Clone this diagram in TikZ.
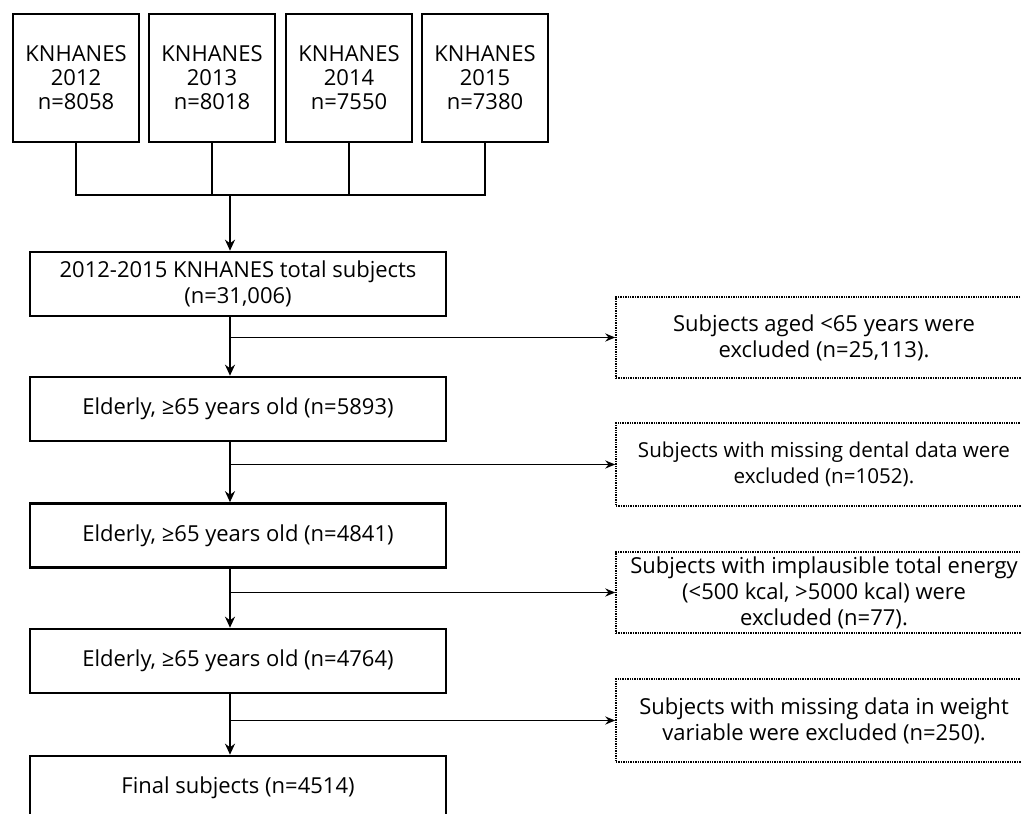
\documentclass[tikz,border=0pt]{standalone}
\usepackage{fontspec}
\setmainfont{Open Sans}
\usetikzlibrary{arrows.meta}

\begin{document}
\begin{tikzpicture}[x=1pt,y=-1pt,font=\fontsize{22}{26}\selectfont]
	\useasboundingbox (0,0) rectangle (1021,814);

	\begin{scope}[every node/.style={draw,line width=2.6pt,align=center,inner sep=0pt,
	                                 font=\fontsize{22}{24}\selectfont,
	                                 minimum width=126pt,minimum height=128pt}]
	    \node (k12) at (76,78) {KNHANES\\2012\\n=8058};
	    \node (k13) at (212,78) {KNHANES\\2013\\n=8018};
	    \node (k14) at (349,78) {KNHANES\\2014\\n=7550};
	    \node (k15) at (485,78) {KNHANES\\2015\\n=7380};
	\end{scope}

	\begin{scope}[every node/.style={draw,line width=2.6pt,align=center,inner sep=0pt,
	                                 minimum width=416pt,minimum height=64pt}]
	    \node (tot) at (238,284) {2012-2015 KNHANES total subjects\\(n=31,006)};
	    \node (e1) at (238,409) {Elderly, ≥65 years old (n=5893)};
	    \node (e2) at (238,535.5) {Elderly, ≥65 years old (n=4841)};
	    \node (e3) at (238,661) {Elderly, ≥65 years old (n=4764)};
	    \node (fin) at (238,788) {Final subjects (n=4514)};
	\end{scope}

	\begin{scope}[every node/.style={draw,densely dotted,line width=1.4pt,align=center,
	                                 inner sep=0pt,minimum width=416pt}]
	    \node[minimum height=81pt] (x1) at (824,337.5) {Subjects aged <65 years were\\excluded (n=25,113).};
	    \node[minimum height=83pt,font=\fontsize{20.6}{26}\selectfont] (x2) at (824,464.5) {Subjects with missing dental data were\\excluded (n=1052).};
	    \node[minimum height=81pt] (x3) at (824,592.5) {Subjects with implausible total energy\\(<500 kcal, >5000 kcal) were\\excluded (n=77).};
	    \node[minimum height=83pt] (x4) at (824,720.5) {Subjects with missing data in weight\\variable were excluded (n=250).};
	\end{scope}

	\coordinate (bar) at (230,195);

	\begin{scope}[>={Stealth[black,length=11pt,width=10pt]},line width=2.8pt]
	    \draw (k12.south) |- (bar) -| (k15.south);
	    \draw (k13.south) -- (k13.south |- bar);
	    \draw (k14.south) -- (k14.south |- bar);
	    \draw[->] (bar) -- (tot.north -| bar);
	    \draw[->] (tot.south -| bar) -- (e1.north -| bar);
	    \draw[->] (e1.south -| bar) -- (e2.north -| bar);
	    \draw[->] (e2.south -| bar) -- (e3.north -| bar);
	    \draw[->] (e3.south -| bar) -- (fin.north -| bar);
	\end{scope}

	\begin{scope}[>={Stealth[black,length=10pt,width=8pt]},line width=1.8pt]
	    \draw[->] (x1.west -| bar) -- (x1.west);
	    \draw[->] (x2.west -| bar) -- (x2.west);
	    \draw[->] (x3.west -| bar) -- (x3.west);
	    \draw[->] (x4.west -| bar) -- (x4.west);
	\end{scope}
\end{tikzpicture}
\end{document}
